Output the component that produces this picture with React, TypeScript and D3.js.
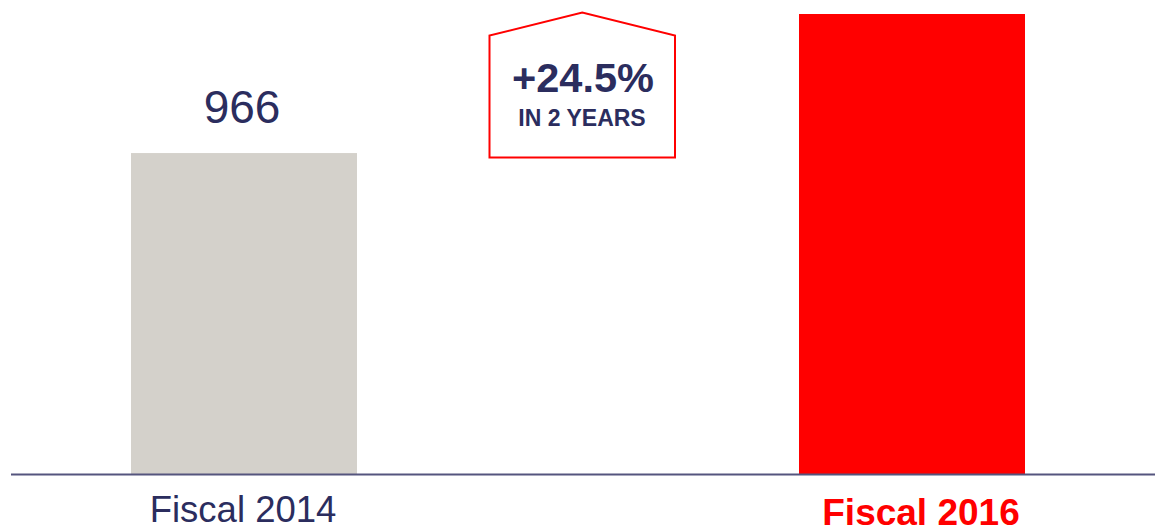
import React from "react";
import * as d3 from "d3";

const categories = ["Fiscal 2014", "Fiscal 2016"];
const values = [966, 1203];
const valueLabels = ["966", ""];
const growthLabel = "+24.5%";
const growthSub = "IN 2 YEARS";

const W = 1155;
const H = 528;
const NAVY = "#2b2d5e";
const RED = "#ff0000";
const GREY = "#d4d1cb";

export default function App() {
  const x = d3.scalePoint<string>().domain(categories).range([244, 912]);
  const barW = 226;
  const y = d3.scaleLinear().domain([419, 1203]).range([474, 14]);
  const colors = [GREY, RED];

  // house callout
  const hx0 = 489.5, hx1 = 675, hTop = 12.5, hShoulder = 35.5, hBottom = 157.5;
  const hMid = (hx0 + hx1) / 2;
  const housePath = `M${hx0},${hBottom} L${hx0},${hShoulder} L${hMid},${hTop} L${hx1},${hShoulder} L${hx1},${hBottom} Z`;

  return (
    <svg
      width={W}
      height={H}
      style={{ position: "absolute", left: 0, top: 0, background: "#fff" }}
      fontFamily="Liberation Sans, Arial, sans-serif"
    >
      {categories.map((c, i) => (
        <rect
          key={c}
          x={(x(c) as number) - barW / 2}
          y={y(values[i])}
          width={barW}
          height={y(419) - y(values[i])}
          fill={colors[i]}
        />
      ))}
      {categories.map((c, i) =>
        valueLabels[i] ? (
          <text
            key={"v" + c}
            x={(x(c) as number) - 2}
            y={y(values[i]) - 30}
            textAnchor="middle"
            fontSize={46}
            fill={NAVY}
          >
            {valueLabels[i]}
          </text>
        ) : null
      )}
      <line x1={11} x2={W} y1={474.5} y2={474.5} stroke="#55557e" strokeWidth={2} />
      <text x={(x(categories[0]) as number) - 1} y={522} textAnchor="middle" fontSize={36.5} fill={NAVY}>
        {categories[0]}
      </text>
      <text
        x={(x(categories[1]) as number) + 9}
        y={525}
        textAnchor="middle"
        fontSize={37}
        fontWeight="bold"
        fill={RED}
      >
        {categories[1]}
      </text>
      <path d={housePath} fill="#fff" stroke={RED} strokeWidth={2} />
      <text x={583} y={92} textAnchor="middle" fontSize={41.5} fontWeight="bold" fill={NAVY}>
        {growthLabel}
      </text>
      <text x={582} y={126} textAnchor="middle" fontSize={23} fontWeight="bold" fill={NAVY}>
        {growthSub}
      </text>
    </svg>
  );
}
